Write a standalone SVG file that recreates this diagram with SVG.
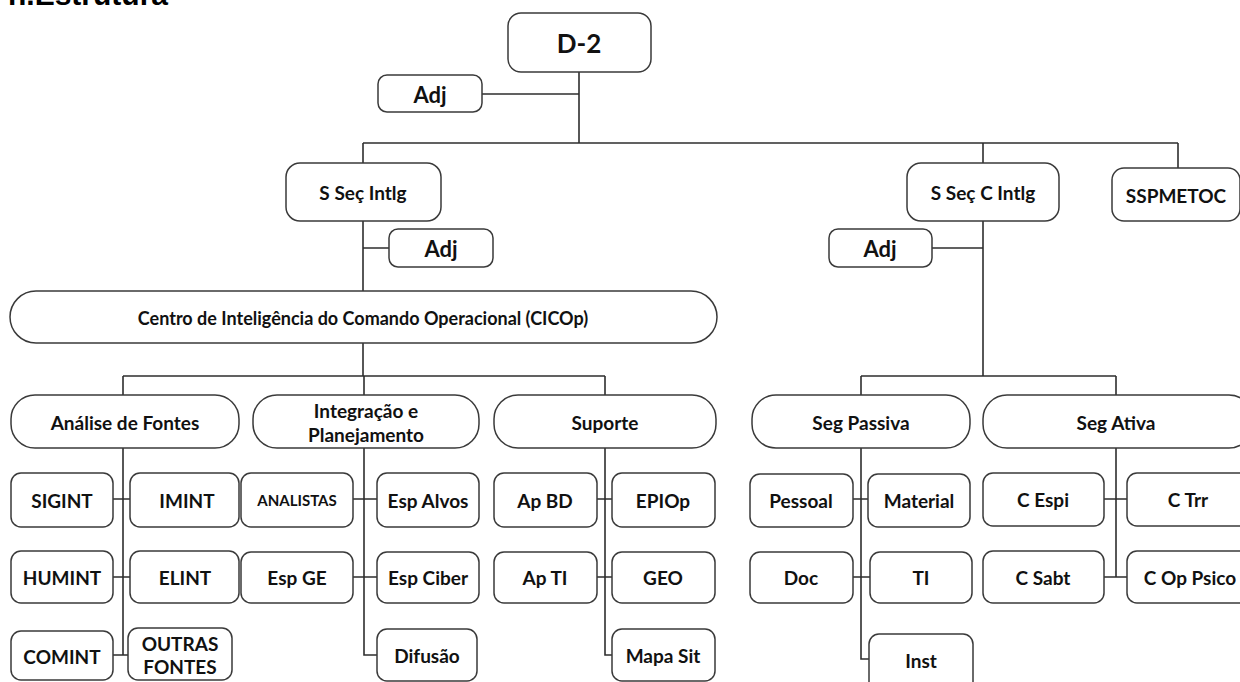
<svg xmlns="http://www.w3.org/2000/svg" width="1240" height="682" viewBox="0 0 1240 682">
  <style>
    .box { fill: #ffffff; stroke: #3a3a3a; stroke-width: 1.5; }
    .ln { fill: none; stroke: #2e2e2e; stroke-width: 1.6; }
    .t { font-family: Lato, "Open Sans", "Liberation Sans", sans-serif; font-weight: 700; fill: #111111; text-anchor: middle; dominant-baseline: central; }
    .s16 { font-size: 19px; }
    .s18 { font-size: 18px; }
    .title { font-family: "Liberation Sans", Arial, sans-serif; font-weight: 700; font-size: 30px; fill: #000; }
  </style>
  <rect width="1240" height="682" fill="#ffffff"/>
  <text class="title" x="8" y="5">n.Estrutura</text>

  <g id="connectors">
    <path class="ln" d="M579 72 V143 M482 94 H579 M363 143 H1178 M363 143 V163 M983 143 V163 M1178 143 V168"/>
    <path class="ln" d="M363 221 V291 M363 248 H389"/>
    <path class="ln" d="M983 221 V376 M932 248 H983 M861 376 H1116 M861 376 V395 M1116 376 V395"/>
    <path class="ln" d="M363 343 V376 M123 376 H605 M123 376 V395 M364 376 V395 M605 376 V395"/>
    <!-- Análise de Fontes -->
    <path class="ln" d="M123 448 V655 M113 499 H130 M113 577 H130 M113 655 H128"/>
    <!-- Integração e Planejamento -->
    <path class="ln" d="M364 448 V655 H377 M353 499 H377 M353 577 H377"/>
    <!-- Suporte -->
    <path class="ln" d="M605 448 V655 H612 M597 499 H612 M597 577 H612"/>
    <!-- Seg Passiva -->
    <path class="ln" d="M861 448 V659 H869 M853 499 H868 M853 577 H870"/>
    <!-- Seg Ativa -->
    <path class="ln" d="M1116 448 V577 M1104 499 H1127 M1104 577 H1127"/>
  </g>

  <g id="d2"><rect class="box" x="508" y="13" width="143" height="59" rx="13"/><text class="t" x="579" y="43" font-size="26">D-2</text></g>
  <g id="adj-d2"><rect class="box" x="378" y="75" width="104" height="37" rx="9"/><text class="t" x="430" y="94" font-size="22">Adj</text></g>

  <g id="s-sec-intlg"><rect class="box" x="286" y="163" width="155" height="58" rx="14"/><text class="t s16" x="363" y="192">S Seç Intlg</text></g>
  <g id="adj-intlg"><rect class="box" x="389" y="229" width="104" height="38" rx="9"/><text class="t" x="441" y="248" font-size="22">Adj</text></g>
  <g id="s-sec-c-intlg"><rect class="box" x="907" y="163" width="152" height="58" rx="14"/><text class="t s16" x="983" y="192">S Seç C Intlg</text></g>
  <g id="sspmetoc"><rect class="box" x="1112" y="168" width="128" height="53" rx="12"/><text class="t s16" x="1176" y="195">SSPMETOC</text></g>
  <g id="adj-c-intlg"><rect class="box" x="829" y="229" width="103" height="38" rx="9"/><text class="t" x="880" y="248" font-size="22">Adj</text></g>

  <g id="cicop"><rect class="box" x="10" y="291" width="707" height="52" rx="26"/><text class="t s18" x="363" y="318">Centro de Inteligência do Comando Operacional (CICOp)</text></g>

  <g id="analise-fontes"><rect class="box" x="11" y="395" width="228" height="53" rx="24"/><text class="t s16" x="125" y="422">Análise de Fontes</text></g>
  <g id="integracao"><rect class="box" x="253" y="395" width="226" height="53" rx="24"/><text class="t s16" x="366" y="410">Integração e</text><text class="t s16" x="366" y="434">Planejamento</text></g>
  <g id="suporte"><rect class="box" x="494" y="395" width="222" height="53" rx="24"/><text class="t s16" x="605" y="422">Suporte</text></g>
  <g id="seg-passiva"><rect class="box" x="752" y="395" width="218" height="53" rx="24"/><text class="t s16" x="861" y="422">Seg Passiva</text></g>
  <g id="seg-ativa"><rect class="box" x="983" y="395" width="270" height="53" rx="24"/><text class="t s16" x="1116" y="422">Seg Ativa</text></g>

  <g id="sigint"><rect class="box" x="11" y="473" width="102" height="54" rx="10"/><text class="t s16" x="62" y="500">SIGINT</text></g>
  <g id="imint"><rect class="box" x="130" y="473" width="109" height="54" rx="10"/><text class="t s16" x="187" y="500">IMINT</text></g>
  <g id="humint"><rect class="box" x="11" y="551" width="102" height="52" rx="10"/><text class="t s16" x="62" y="577">HUMINT</text></g>
  <g id="elint"><rect class="box" x="130" y="551" width="109" height="52" rx="10"/><text class="t s16" x="185" y="577">ELINT</text></g>
  <g id="comint"><rect class="box" x="11" y="631" width="102" height="49" rx="10"/><text class="t s16" x="62" y="656">COMINT</text></g>
  <g id="outras-fontes"><rect class="box" x="128" y="628" width="104" height="52" rx="10"/><text class="t s16" x="180" y="643">OUTRAS</text><text class="t s16" x="180" y="666">FONTES</text></g>

  <g id="analistas"><rect class="box" x="241" y="473" width="112" height="54" rx="10"/><text class="t" x="297" y="500" font-size="15">ANALISTAS</text></g>
  <g id="esp-alvos"><rect class="box" x="377" y="473" width="102" height="54" rx="10"/><text class="t s16" x="428" y="500">Esp Alvos</text></g>
  <g id="esp-ge"><rect class="box" x="241" y="552" width="112" height="51" rx="10"/><text class="t s16" x="297" y="577">Esp GE</text></g>
  <g id="esp-ciber"><rect class="box" x="377" y="552" width="102" height="51" rx="10"/><text class="t s16" x="428" y="577">Esp Ciber</text></g>
  <g id="difusao"><rect class="box" x="377" y="629" width="100" height="52" rx="10"/><text class="t s16" x="427" y="655">Difusão</text></g>

  <g id="ap-bd"><rect class="box" x="494" y="473" width="103" height="54" rx="10"/><text class="t s16" x="545" y="500">Ap BD</text></g>
  <g id="epiop"><rect class="box" x="612" y="473" width="103" height="54" rx="10"/><text class="t s16" x="663" y="500">EPIOp</text></g>
  <g id="ap-ti"><rect class="box" x="494" y="552" width="103" height="51" rx="10"/><text class="t s16" x="545" y="577">Ap TI</text></g>
  <g id="geo"><rect class="box" x="612" y="552" width="103" height="51" rx="10"/><text class="t s16" x="663" y="577">GEO</text></g>
  <g id="mapa-sit"><rect class="box" x="612" y="629" width="103" height="52" rx="10"/><text class="t s16" x="663" y="655">Mapa Sit</text></g>

  <g id="pessoal"><rect class="box" x="750" y="474" width="103" height="53" rx="10"/><text class="t s16" x="801" y="500">Pessoal</text></g>
  <g id="material"><rect class="box" x="868" y="474" width="102" height="53" rx="10"/><text class="t s16" x="919" y="500">Material</text></g>
  <g id="doc"><rect class="box" x="750" y="552" width="103" height="51" rx="10"/><text class="t s16" x="801" y="577">Doc</text></g>
  <g id="ti"><rect class="box" x="870" y="552" width="102" height="51" rx="10"/><text class="t s16" x="921" y="577">TI</text></g>
  <g id="inst"><rect class="box" x="869" y="634" width="104" height="60" rx="10"/><text class="t s16" x="921" y="660">Inst</text></g>

  <g id="c-espi"><rect class="box" x="983" y="473" width="121" height="53" rx="10"/><text class="t s16" x="1043" y="499">C Espi</text></g>
  <g id="c-trr"><rect class="box" x="1127" y="473" width="125" height="53" rx="10"/><text class="t s16" x="1188" y="499">C Trr</text></g>
  <g id="c-sabt"><rect class="box" x="983" y="551" width="121" height="52" rx="10"/><text class="t s16" x="1043" y="577">C Sabt</text></g>
  <g id="c-op-psico"><rect class="box" x="1127" y="551" width="125" height="52" rx="10"/><text class="t s16" x="1190" y="577">C Op Psico</text></g>
</svg>
